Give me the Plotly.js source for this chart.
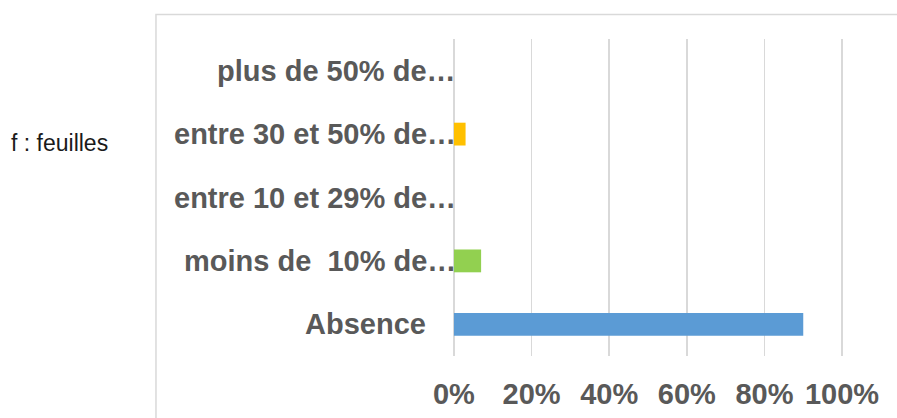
<!DOCTYPE html>
<html>
<head>
<meta charset="utf-8">
<script src="https://cdn.plot.ly/plotly-3.0.1.min.js"></script>
<style>html,body{margin:0;padding:0;background:#fff;}#chart{width:897px;height:418px;}</style>
</head>
<body>
<div id="chart"></div>
<script>
// Data
const categories = ["Absence", "moins de  10% de…", "entre 10 et 29% de…", "entre 30 et 50% de…", "plus de 50% de…"];
const values = [0.90, 0.07, 0, 0.03, 0];
const barColors = ["#5B9BD5", "#92D050", "#A5A5A5", "#FFC000", "#4472C4"];
const xTickVals = [0, 0.2, 0.4, 0.6, 0.8, 1.0];
const sideNote = "f : feuilles";

const W = 897, H = 418;
const M = {l: 451.6, r: 53.3, t: 39, b: 62};
const pw = W - M.l - M.r, ph = H - M.t - M.b;
const xr = [-0.005, 1.005];
const px2x = p => (p - M.l) / pw;
const px2y = p => (H - M.b - p) / ph;
const zeroShift = 0.005 * pw / (xr[1] - xr[0]);

const textGrey = "#595959";
const fam = "Liberation Sans, Arial, sans-serif";

const trace = {
  type: "bar",
  orientation: "h",
  y: categories,
  x: values,
  marker: {color: barColors},
  width: 0.36,
  hoverinfo: "skip"
};

const annotations = categories.map(c => ({
  text: c,
  x: px2x(M.l + zeroShift), xref: "paper",
  y: c, yref: "y",
  xanchor: "right", yanchor: "middle",
  xshift: c.endsWith("…") ? 4 : -26,
  showarrow: false,
  font: {family: fam, size: 29, weight: "bold", color: textGrey}
}));
annotations.push({
  text: sideNote,
  x: px2x(8), xref: "paper",
  y: px2y(143), yref: "paper",
  xanchor: "left", yanchor: "middle",
  showarrow: false,
  font: {family: fam, size: 23, color: "#1a1a1a"}
});

const layout = {
  width: W, height: H,
  margin: M,
  paper_bgcolor: "#fff", plot_bgcolor: "#fff",
  showlegend: false,
  xaxis: {
    range: xr,
    tickvals: xTickVals,
    tickformat: ".0%",
    showgrid: true, gridcolor: "#D9D9D9", gridwidth: 1.5,
    zeroline: false, showline: false, ticks: "",
    ticklabelstandoff: 18,
    tickfont: {family: fam, size: 29, weight: "bold", color: textGrey},
    fixedrange: true
  },
  yaxis: {
    type: "category",
    categoryorder: "array", categoryarray: categories,
    range: [-0.5, 4.5],
    showticklabels: false, showgrid: false, zeroline: false, showline: false,
    fixedrange: true
  },
  shapes: [{
    type: "rect", xref: "paper", yref: "paper",
    x0: px2x(155.5), x1: px2x(905), y0: px2y(425), y1: px2y(14.5),
    line: {color: "#D9D9D9", width: 1.5}, fillcolor: "rgba(0,0,0,0)", layer: "below"
  }],
  annotations: annotations
};

Plotly.newPlot("chart", [trace], layout, {displayModeBar: false, staticPlot: true});
</script>
</body>
</html>
